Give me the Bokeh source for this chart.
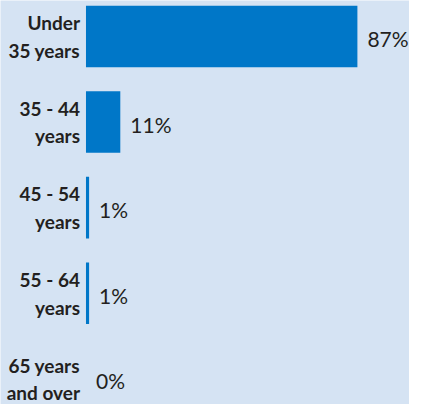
from bokeh.plotting import figure
from bokeh.models import Range1d, ColumnDataSource
from bokeh.core.properties import value
from bokeh.embed import file_html
from bokeh.resources import INLINE

categories = ["Under\n35 years", "35 - 44\nyears", "45 - 54\nyears", "55 - 64\nyears", "65 years\nand over"]
values = [87, 11, 1, 1, 0]
value_labels = ["87%", "11%", "1%", "1%", "0%"]

BG = "#d5e3f3"
BAR = "#0077c8"
TXT = "#231f20"
FONT = "Lato"

pos = list(range(len(categories)))
src = ColumnDataSource(dict(y=pos, v=values, cat=categories, lab=value_labels, zero=[0] * len(pos)))

p = figure(width=409, height=404, output_backend="svg", toolbar_location=None,
           x_range=Range1d(-27.4, 103.7), y_range=Range1d(4.30, -0.42),
           background_fill_color=BG, border_fill_color=BG,
           min_border_left=0, min_border_right=0, min_border_top=0, min_border_bottom=0)
p.outline_line_color = None
p.xaxis.visible = False
p.yaxis.visible = False
p.xgrid.visible = False
p.ygrid.visible = False

p.hbar(y="y", left=0, right="v", height=0.72, source=src, fill_color=BAR, line_color=None)

p.text(x="zero", y="y", text="cat", source=src, x_offset=-6, y_offset=0,
       text_align="right", text_baseline="middle", text_font=value(FONT),
       text_font_style="bold", text_font_size="19px", text_color=TXT, text_line_height=1.2)

p.text(x="v", y="y", text="lab", source=src, x_offset=10, y_offset=2,
       text_align="left", text_baseline="middle", text_font=value(FONT),
       text_font_size="21px", text_color=TXT)

open("out.html", "w").write(file_html(p, INLINE))
